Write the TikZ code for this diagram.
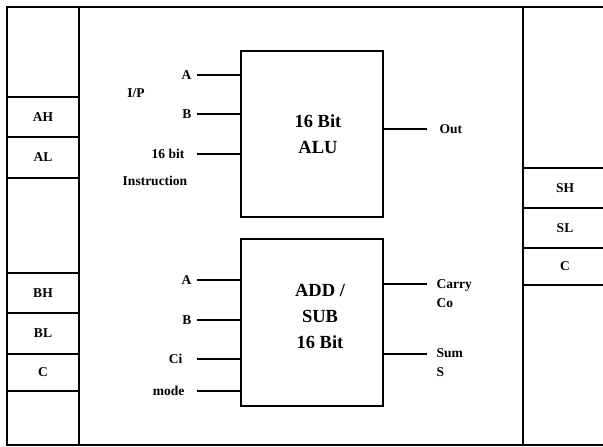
\documentclass[tikz,border=0pt]{standalone}
\usepackage{fontspec}
\setmainfont{Liberation Serif}
\usetikzlibrary{positioning}

\begin{document}
\begin{tikzpicture}[x=1pt,y=-1pt,line width=1.3pt,
  reg/.style={draw,outer sep=0pt,inner sep=0pt,font=\bfseries\fontsize{13.5}{16}\selectfont},
  unit/.style={draw,minimum width=142pt,minimum height=166pt,inner sep=0pt},
  lbl/.style={inner sep=0pt,font=\bfseries\fontsize{13.5}{19}\selectfont},
  big/.style={align=center,font=\bfseries\fontsize{18.5}{26}\selectfont}]
\useasboundingbox (0,0) rectangle (603,447);
% frame and columns
\draw (612,7) -- (7,7) -- (7,445) -- (612,445);
\draw (79,7) -- (79,445);
\draw (523,7) -- (523,445);

% left registers
\node[reg,minimum width=72pt,minimum height=40pt] (ah) at (43,117) {AH};
\node[reg,minimum width=72pt,minimum height=41pt,below=0pt of ah] (al) {AL};
\node[reg,minimum width=72pt,minimum height=40pt] (bh) at (43,293) {BH};
\node[reg,minimum width=72pt,minimum height=41pt,below=0pt of bh] (bl) {BL};
\node[reg,minimum width=72pt,minimum height=37pt,below=0pt of bl] (cin) {C};

% right registers
\node[reg,minimum width=84pt,minimum height=40pt] (sh) at (565,188) {SH};
\node[reg,minimum width=84pt,minimum height=40pt,below=0pt of sh] (sl) {SL};
\node[reg,minimum width=84pt,minimum height=37pt,below=0pt of sl] (cout) {C};

% ALU
\node[unit] (alu) at (312,134) {};
\node[big] (alutxt) at (318,134) {16 Bit\\ALU};
\node[lbl] (ip) at (136,93) {I/P};
\coordinate (aluA) at (197,75);
\coordinate (aluB) at (197,114);
\coordinate (aluI) at (197,154);
\draw (aluA) -- (aluA -| alu.west);
\draw (aluB) -- (aluB -| alu.west);
\draw (aluI) -- (aluI -| alu.west);
\node[lbl,left=5pt of aluA] (lblaA) {A};
\node[lbl,left=5pt of aluB] (lblaB) {B};
\node[lbl,left=12pt of aluI] (lblaI) {16 bit};
\node[lbl] (instr) at (155,181) {Instruction};
\coordinate (aluOut) at (427,129);
\draw (alu.east |- aluOut) -- (aluOut);
\node[lbl,right=12pt of aluOut] (lblOut) {Out};

% ADD / SUB
\node[unit,minimum height=167pt] (addsub) at (312,322.5) {};
\node[big] (addtxt) at (320,316) {ADD /\\SUB\\16 Bit};
\coordinate (addA) at (197,280);
\coordinate (addB) at (197,320);
\coordinate (addCi) at (197,359);
\coordinate (addM) at (197,391);
\draw (addA) -- (addA -| addsub.west);
\draw (addB) -- (addB -| addsub.west);
\draw (addCi) -- (addCi -| addsub.west);
\draw (addM) -- (addM -| addsub.west);
\node[lbl,left=5pt of addA] (lbldA) {A};
\node[lbl,left=5pt of addB] (lbldB) {B};
\node[lbl,left=14pt of addCi] (lblCi) {Ci};
\node[lbl,left=12pt of addM] (lblM) {mode};
\coordinate (addCo) at (427,284);
\coordinate (addS) at (427,354);
\draw (addsub.east |- addCo) -- (addCo);
\draw (addsub.east |- addS) -- (addS);
\node[lbl,align=left,anchor=west] (lblCo) at (436,293.5) {Carry\\Co};
\node[lbl,align=left,anchor=west] (lblS) at (436,362.5) {Sum\\S};
\end{tikzpicture}
\end{document}
